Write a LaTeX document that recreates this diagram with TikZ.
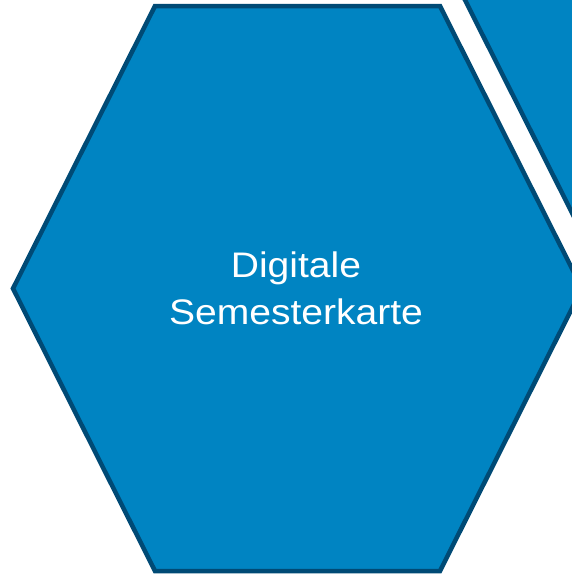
\documentclass[tikz,border=0pt]{standalone}
\usepackage{fontspec}
\setmainfont{Liberation Sans}
\definecolor{hexfill}{RGB}{0,132,194}
\definecolor{hexline}{RGB}{0,74,117}
\tikzset{
  hexagon/.style={fill=hexfill, draw=hexline, line width=4.5pt, line join=miter},
  label/.style={text=white, font=\fontsize{35.5}{47}\selectfont, inner sep=0pt, anchor=base, xscale=1.1}
}
\begin{document}
\begin{tikzpicture}[x=1pt,y=-1pt]
\useasboundingbox (0,0) rectangle (572,574);
\clip (0,0) rectangle (572,574);
% second hexagon (partially visible, top right)
\draw[hexagon] (604,-294.5) -- (889,-294.5) -- (1031,-6) -- (889,276.5) -- (604,276.5) -- (462,-6) -- cycle;
% main hexagon
\draw[hexagon] (155,6) -- (440,6) -- (582,288.5) -- (440,571) -- (155,571) -- (13,288.5) -- cycle;
\node[label] (title1) at (296,277) {Digitale};
\node[label] (title2) at (296,324) {Semesterkarte};
\end{tikzpicture}
\end{document}
